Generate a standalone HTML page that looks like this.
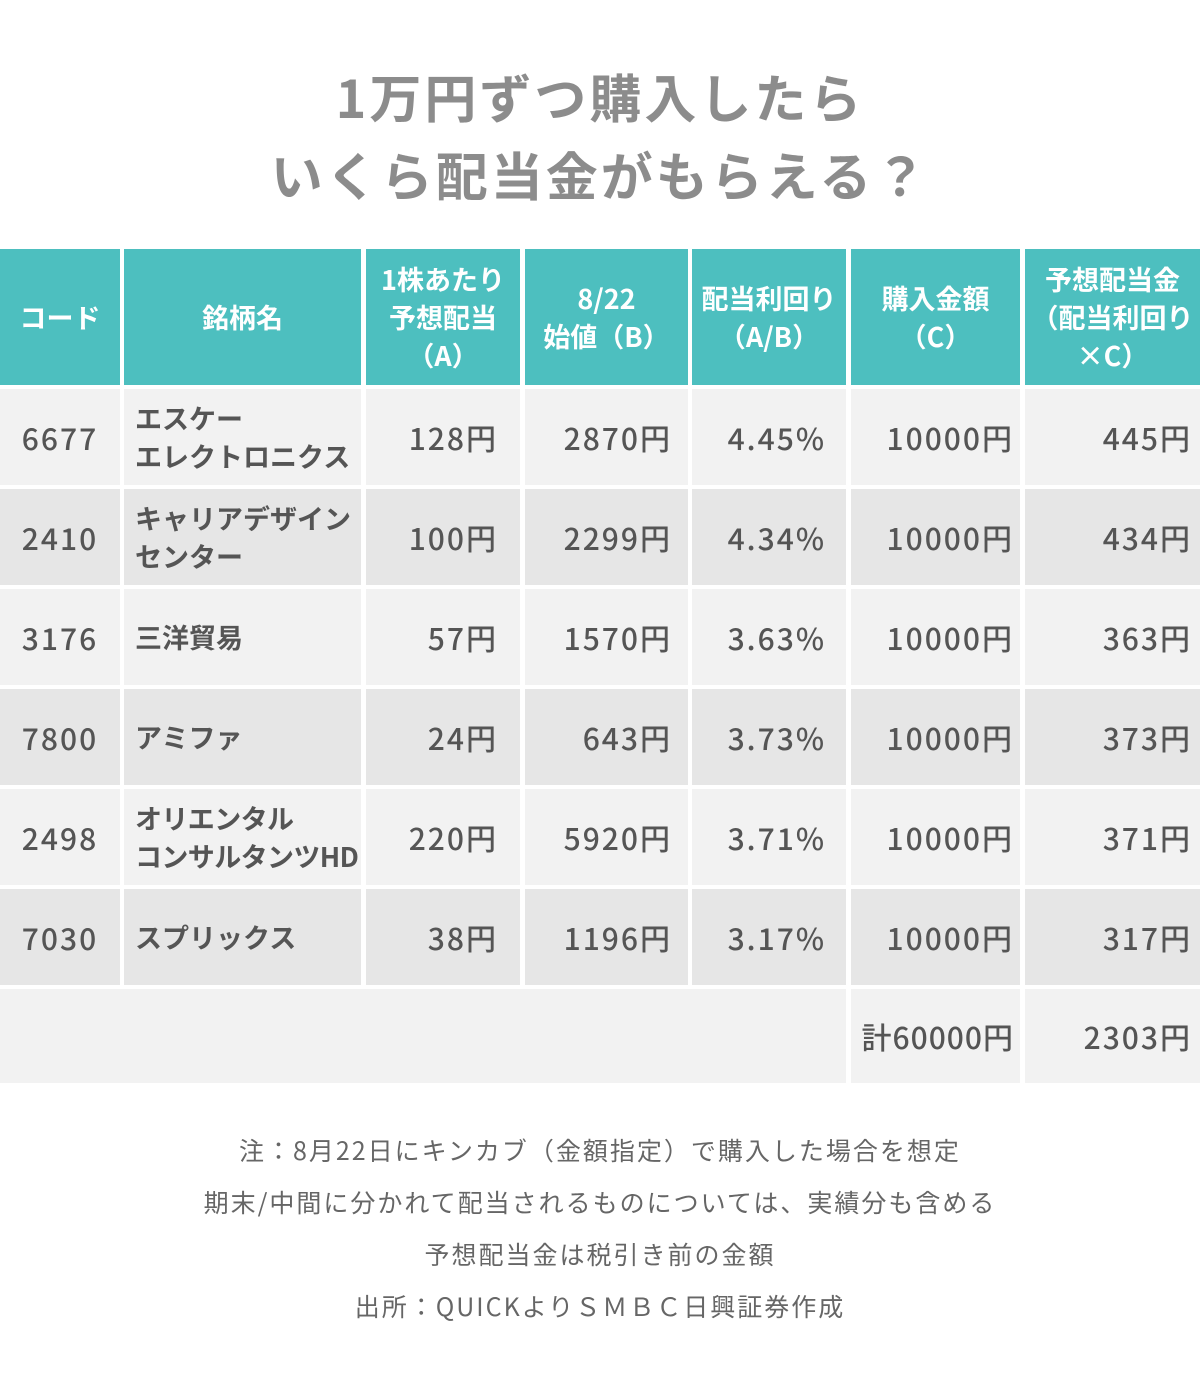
<!DOCTYPE html><html><head><meta charset="utf-8"><style>
body{margin:0;width:1200px;height:1388px;background:#fff;font-family:"Noto Sans CJK JP","Liberation Sans",sans-serif;position:relative;overflow:hidden}
.t{position:absolute;left:0;width:1200px;text-align:center;color:#8c8c8c;font-weight:bold;font-size:52px;line-height:60px;letter-spacing:3px}
.c{position:absolute;display:flex;align-items:center;box-sizing:border-box;color:#555;font-size:30px;font-weight:500;line-height:38px;white-space:nowrap;letter-spacing:2px}
.h{background:#4dbfbf;color:#fff;justify-content:center;text-align:center;font-size:27px;line-height:38px;font-weight:bold;letter-spacing:0}
.r{justify-content:flex-end;padding-right:20px}
.m{justify-content:center}
.n{padding-left:11px;font-size:27px;line-height:38px;letter-spacing:0;font-weight:bold}
.a{background:#f2f2f2}.b{background:#e6e6e6}
.note{position:absolute;left:0;width:1200px;text-align:center;color:#666;font-size:25px;line-height:34px;letter-spacing:2px}
</style></head><body>
<div class="t" style="top:66px">1万円ずつ購入したら</div>
<div class="t" style="top:144px">いくら配当金がもらえる？</div>
<div id="tb"></div>
<div class="note" style="top:1133px">注：8月22日にキンカブ（金額指定）で購入した場合を想定</div>
<div class="note" style="top:1185px">期末/中間に分かれて配当されるものについては、実績分も含める</div>
<div class="note" style="top:1237px">予想配当金は税引き前の金額</div>
<div class="note" style="top:1289px">出所：QUICKよりＳＭＢＣ日興証券作成</div>
<script>
var X=[[0,120],[124,361],[366,520],[525,688],[692,846],[851,1020],[1025,1200]];
var P=[0,0,22,16,20,6,8];
var H=["コード","銘柄名","1株あたり<br>予想配当<br>（A）","8/22<br>始値（B）","配当利回り<br>（A/B）","購入金額<br>（C）","予想配当金<br>（配当利回り<br>×C）"];
var D=[["6677","エスケー<br>エレクトロニクス","128円","2870円","4.45%","10000円","445円"],
["2410","キャリアデザイン<br>センター","100円","2299円","4.34%","10000円","434円"],
["3176","三洋貿易","57円","1570円","3.63%","10000円","363円"],
["7800","アミファ","24円","643円","3.73%","10000円","373円"],
["2498","オリエンタル<br>コンサルタンツHD","220円","5920円","3.71%","10000円","371円"],
["7030","スプリックス","38円","1196円","3.17%","10000円","317円"]];
var s="";
function cell(x,y,w,h,cls,txt,extra){s+='<div class="c '+cls+'" style="left:'+x+'px;top:'+y+'px;width:'+w+'px;height:'+h+'px;'+(extra||'')+'"><div>'+txt+'</div></div>';}
X.forEach(function(c,i){cell(c[0],249,c[1]-c[0],136,"h",H[i]);});
D.forEach(function(r,j){var y=389+j*100,bg=j%2?"b":"a";
X.forEach(function(c,i){var cl=i==0?"m":i==1?"n":"r";cell(c[0],y,c[1]-c[0],96,bg+" "+cl,r[i],i>1?"padding-right:"+P[i]+"px":(i==1&&j==4?"letter-spacing:-0.6px":""));});});
cell(0,989,846,94,"a","");
cell(851,989,169,94,"a r","計60000円","padding-right:6px;letter-spacing:1px");
cell(1025,989,175,94,"a r","2303円","padding-right:8px");
document.getElementById("tb").innerHTML=s;
</script>
</body></html>
